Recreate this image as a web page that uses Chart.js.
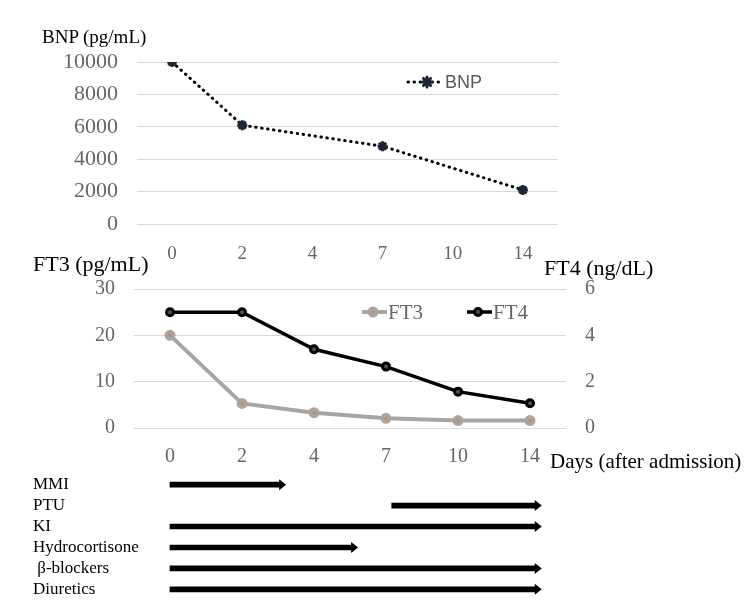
<!DOCTYPE html>
<html>
<head>
<meta charset="utf-8">
<script src="https://cdn.jsdelivr.net/npm/chart.js@4.4.1/dist/chart.umd.min.js"></script>
<style>
  body { margin: 0; background: #fff; }
  #wrap { position: relative; width: 750px; height: 608px; overflow: hidden; }
  canvas { position: absolute; left: 0; }
  .lbl { position: absolute; font-family: 'Liberation Serif', 'Times New Roman', serif; color: #000; line-height: 1; white-space: nowrap; }
</style>
</head>
<body>
<div id="wrap">
  <canvas id="bnpChart" width="750" height="264" style="top:0"></canvas>
  <canvas id="thyChart" width="750" height="220" style="top:250px"></canvas>
  <canvas id="drugChart" width="750" height="146" style="top:464px"></canvas>
  <div class="lbl" style="left:42px; top:27px; font-size:19px">BNP (pg/mL)</div>
  <div class="lbl" style="left:33px; top:253px; font-size:22px">FT3 (pg/mL)</div>
  <div class="lbl" style="left:544px; top:257px; font-size:22px">FT4 (ng/dL)</div>
  <div class="lbl" style="left:550px; top:451px; font-size:21px">Days (after admission)</div>
</div>
<script>
// days after admission (evenly spaced categories)
const days = ["0", "2", "4", "7", "10", "14"];
const bnp = [10000, 6100, null, 4800, null, 2100];
const ft3 = [20, 5.3, 3.3, 2.1, 1.6, 1.6];
const ft4 = [5.0, 5.0, 3.4, 2.65, 1.57, 1.07];

// treatments, start/end given in day-category index units (0 = day 0 ... 5 = day 14)
const drugs = ["MMI", "PTU", "KI", "Hydrocortisone", " β-blockers", "Diuretics"];
const drugStart = [0, 3.08, 0, 0, 0, 0];
const drugEnd = [1.53, 5.08, 5.08, 2.53, 5.08, 5.08];

const serif = "'Liberation Serif', 'Times New Roman', serif";
const tickGray = "#666666";
const gridGray = "#d9d9d9";
const plain = (v) => String(v);

// draws legend items at fixed spots inside the plot
const inlineLegend = {
  id: "inlineLegend",
  afterDraw(chart, args, opts) {
    const ctx = chart.ctx;
    (opts.items || []).forEach((it) => {
      const ds = chart.data.datasets[it.dataset];
      ctx.save();
      ctx.strokeStyle = ds.borderColor;
      ctx.lineWidth = ds.borderWidth;
      ctx.lineCap = ds.borderCapStyle || "butt";
      ctx.setLineDash(ds.borderDash || []);
      ctx.beginPath();
      ctx.moveTo(it.x0, it.y);
      ctx.lineTo(it.x1, it.y);
      ctx.stroke();
      ctx.setLineDash([]);
      ctx.fillStyle = ds.pointBackgroundColor;
      ctx.strokeStyle = ds.pointBorderColor;
      ctx.lineWidth = ds.pointBorderWidth;
      Chart.helpers.drawPoint(ctx, {
        pointStyle: ds.pointStyle || "circle",
        radius: ds.pointRadius,
        borderWidth: ds.pointBorderWidth,
        rotation: 0,
      }, it.px, it.y);
      ctx.fillStyle = it.color;
      ctx.font = it.font;
      ctx.textAlign = "left";
      ctx.textBaseline = "middle";
      ctx.fillText(ds.label, it.tx, it.y + 1);
      ctx.restore();
    });
  },
};

// arrow heads at the end of each treatment bar
const arrowHeads = {
  id: "arrowHeads",
  afterDatasetsDraw(chart) {
    const ctx = chart.ctx;
    chart.getDatasetMeta(0).data.forEach((bar) => {
      const end = Math.max(bar.x, bar.base);
      ctx.save();
      ctx.fillStyle = "#000";
      ctx.beginPath();
      ctx.moveTo(end - 1, bar.y - 5.5);
      ctx.lineTo(end + 6, bar.y);
      ctx.lineTo(end - 1, bar.y + 5.5);
      ctx.closePath();
      ctx.fill();
      ctx.restore();
    });
  },
};

new Chart(document.getElementById("bnpChart"), {
  type: "line",
  data: {
    labels: days,
    datasets: [
      {
        label: "BNP",
        data: bnp,
        spanGaps: true,
        borderColor: "#000",
        borderWidth: 3,
        borderDash: [0.5, 5.5],
        borderCapStyle: "round",
        pointStyle: "star",
        pointRadius: 5,
        pointBorderWidth: 3,
        pointBackgroundColor: "#2b3a55",
        pointBorderColor: "#1c2636",
        tension: 0,
      },
    ],
  },
  options: {
    responsive: false,
    animation: false,
    devicePixelRatio: 1,
    layout: { padding: { top: 62, left: 0, right: 192, bottom: 0 } },
    plugins: {
      legend: { display: false },
      tooltip: { enabled: false },
      inlineLegend: {
        items: [{ dataset: 0, x0: 408, x1: 441, px: 427, tx: 445, y: 82,
          color: "#595959", font: "18px 'Liberation Sans', Arial, sans-serif" }],
      },
    },
    scales: {
      x: {
        offset: true,
        grid: { display: false },
        border: { display: false },
        ticks: { color: tickGray, font: { family: serif, size: 19 }, padding: 11 },
        afterFit: (axis) => { axis.height = 40; },
      },
      y: {
        min: 0,
        max: 10000,
        ticks: { stepSize: 2000, callback: plain, color: tickGray, font: { family: serif, size: 22 }, padding: 19 },
        grid: { color: gridGray, drawTicks: false },
        border: { display: false },
        afterFit: (axis) => { axis.width = 137; },
      },
    },
  },
  plugins: [inlineLegend],
});

new Chart(document.getElementById("thyChart"), {
  type: "line",
  data: {
    labels: days,
    datasets: [
      {
        label: "FT3",
        data: ft3,
        yAxisID: "y",
        borderColor: "#a5a5a5",
        borderWidth: 4,
        pointRadius: 3.5,
        pointBorderWidth: 4,
        pointBackgroundColor: "#ed7d31",
        pointBorderColor: "#a5a5a5",
        tension: 0,
      },
      {
        label: "FT4",
        data: ft4,
        yAxisID: "y1",
        borderColor: "#000",
        borderWidth: 3.5,
        pointRadius: 3.5,
        pointBorderWidth: 3,
        pointBackgroundColor: "#44546a",
        pointBorderColor: "#000",
        tension: 0,
      },
    ],
  },
  options: {
    responsive: false,
    animation: false,
    devicePixelRatio: 1,
    layout: { padding: { top: 39, left: 0, right: 0, bottom: 0 } },
    plugins: {
      legend: { display: false },
      tooltip: { enabled: false },
      inlineLegend: {
        items: [
          { dataset: 0, x0: 362, x1: 387, px: 373, tx: 388, y: 62, color: "#666666", font: "21px " + serif },
          { dataset: 1, x0: 467, x1: 492, px: 478, tx: 493, y: 62, color: "#666666", font: "21px " + serif },
        ],
      },
    },
    scales: {
      x: {
        offset: true,
        grid: { display: false },
        border: { display: false },
        ticks: { color: tickGray, font: { family: serif, size: 20 }, padding: 9 },
        afterFit: (axis) => { axis.height = 42; },
      },
      y: {
        position: "left",
        min: 0,
        max: 30,
        ticks: { stepSize: 10, color: tickGray, font: { family: serif, size: 20 }, padding: 19 },
        grid: { color: gridGray, drawTicks: false },
        border: { display: false },
        afterFit: (axis) => { axis.width = 134; },
      },
      y1: {
        position: "right",
        min: 0,
        max: 6,
        ticks: { stepSize: 2, color: tickGray, font: { family: serif, size: 20 }, padding: 19 },
        grid: { display: false, drawTicks: false },
        border: { display: false },
        afterFit: (axis) => { axis.width = 184; },
      },
    },
  },
  plugins: [inlineLegend],
});

// plot area runs 145..566 px; 72 px per day category, day 0 centred at 170 px
new Chart(document.getElementById("drugChart"), {
  type: "bar",
  data: {
    labels: drugs,
    datasets: [
      {
        data: drugs.map((d, i) => [drugStart[i], drugEnd[i]]),
        backgroundColor: "#000",
        borderWidth: 0,
        borderSkipped: false,
        barThickness: 5,
      },
    ],
  },
  options: {
    indexAxis: "y",
    responsive: false,
    animation: false,
    devicePixelRatio: 1,
    layout: { padding: { top: 0, left: 33, right: 184, bottom: 0 } },
    plugins: { legend: { display: false }, tooltip: { enabled: false } },
    scales: {
      x: { type: "linear", min: -0.347, max: 5.5, display: false },
      y: {
        grid: { display: false },
        border: { display: false },
        ticks: { color: "#000", font: { family: serif, size: 17 }, crossAlign: "far", padding: 0, autoSkip: false },
        afterFit: (axis) => { axis.width = 112; },
      },
    },
  },
  plugins: [arrowHeads],
});
</script>
</body>
</html>
